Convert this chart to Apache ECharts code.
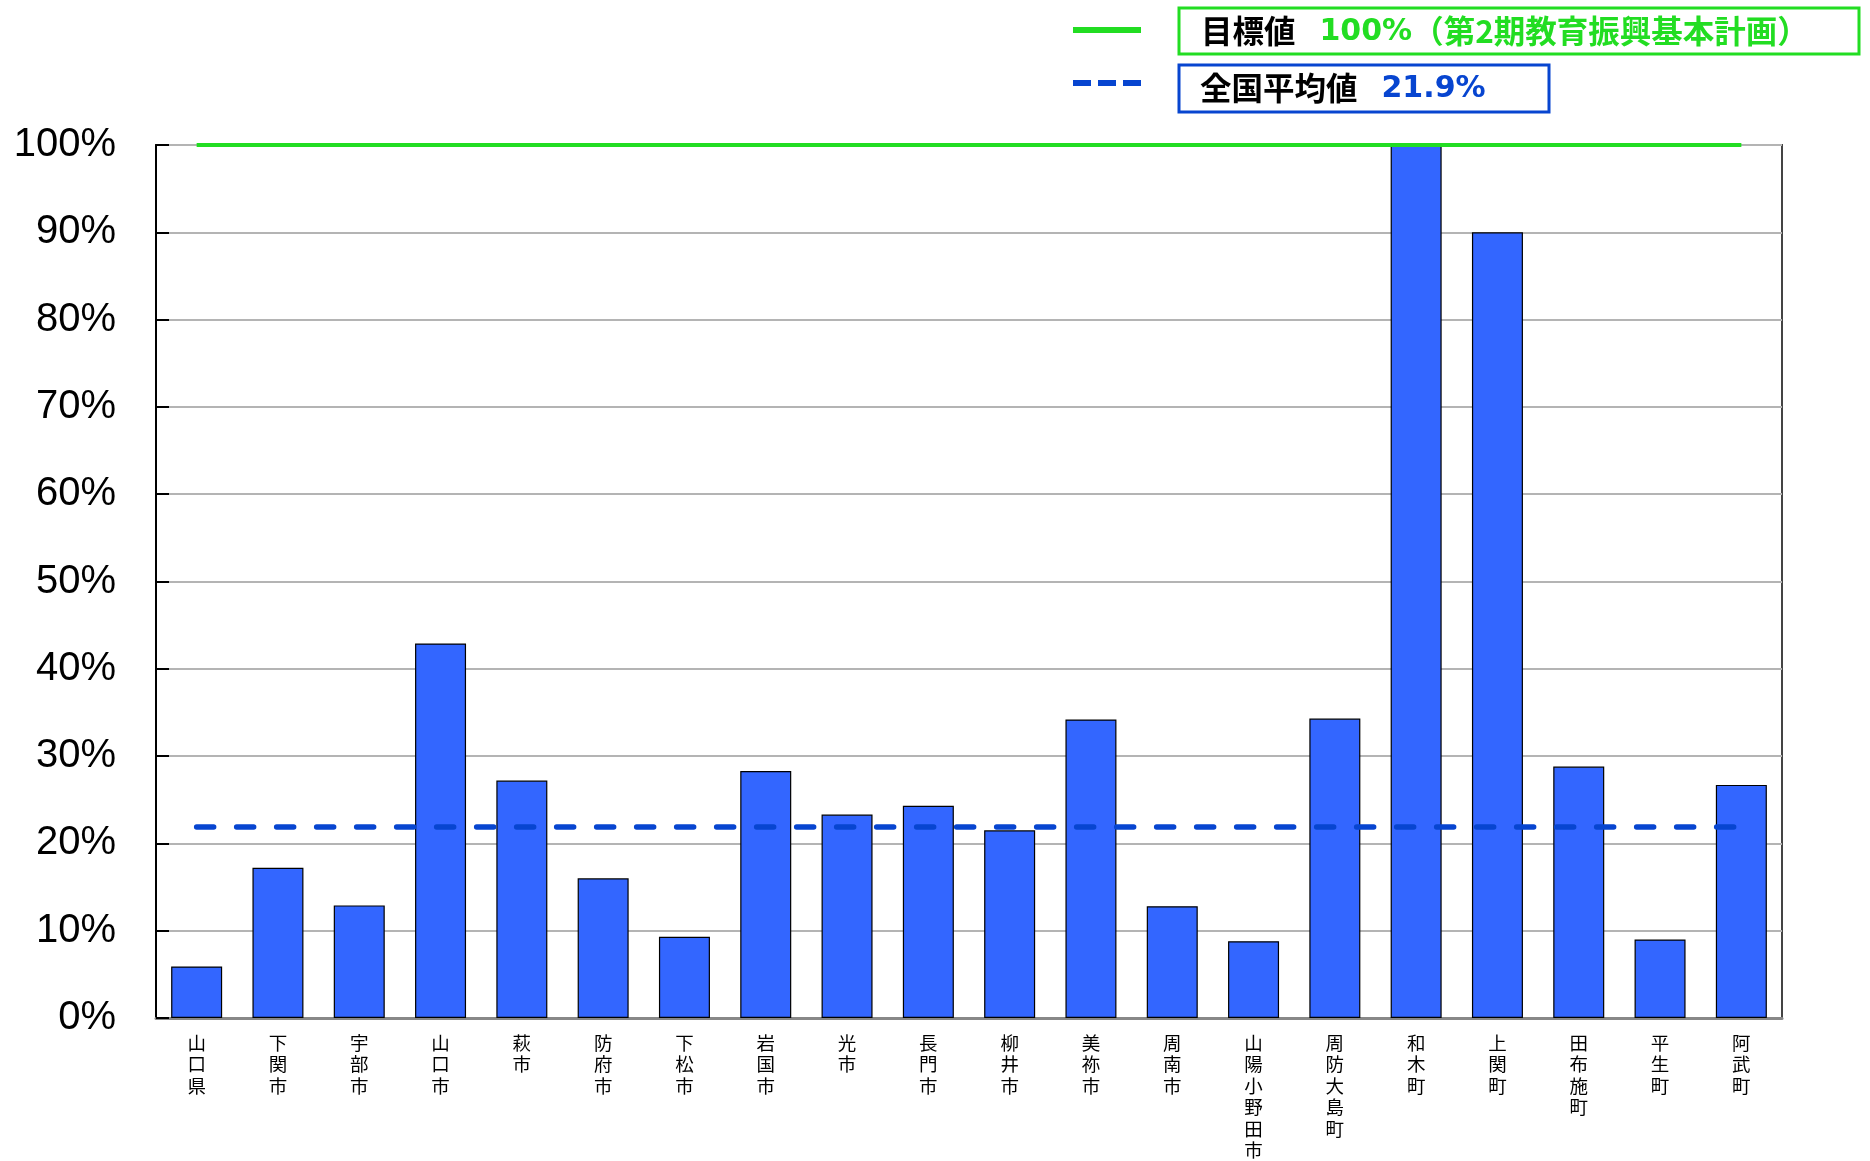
<!DOCTYPE html>
<html>
<head>
<meta charset="utf-8">
<script src="https://cdn.jsdelivr.net/npm/echarts@6/dist/echarts.min.js"></script>
<style>
  html, body { margin: 0; padding: 0; background: #fff; }
  #chart { width: 1870px; height: 1161px; }
</style>
</head>
<body>
<div id="chart"></div>
<script>
// 市町名
const cities = ['山口県', '下関市', '宇部市', '山口市', '萩市', '防府市', '下松市', '岩国市', '光市', '長門市',
                '柳井市', '美祢市', '周南市', '山陽小野田市', '周防大島町', '和木町', '上関町', '田布施町', '平生町', '阿武町'];
// 割合（%）
const rates = [5.9, 17.2, 12.9, 42.9, 27.2, 16.0, 9.3, 28.3, 23.3, 24.3,
               21.5, 34.2, 12.8, 8.8, 34.3, 100, 90.0, 28.8, 9.0, 26.7];
// 目標値と全国平均値（%）
const targetRate = 100;
const nationalAverage = 21.9;
const targetNote = '（第2期教育振興基本計画）';
// 縦軸目盛
const yMin = 0, yMax = 100, yStep = 10;

const GREEN = '#22dd22';
const BLUE = '#0745d0';
const BAR = '#3366ff';
const CJK = '"Noto Sans CJK JP", "Noto Sans", sans-serif';
const NUM = '"DejaVu Sans", Verdana, sans-serif';

const chart = echarts.init(document.getElementById('chart'), null, { renderer: 'canvas' });

const first = cities[0], last = cities[cities.length - 1];

const legendRich = {
  k: { fontFamily: CJK, fontWeight: 'bold', fontSize: 31.5, fill: '#000', padding: [0, 24, 0, 0] },
  g: { fontFamily: NUM, fontWeight: 'bold', fontSize: 30, fill: GREEN, padding: [2, 0, 0, 0] },
  gj: { fontFamily: CJK, fontWeight: 'bold', fontSize: 31.5, fill: GREEN },
  b: { fontFamily: NUM, fontWeight: 'bold', fontSize: 30, fill: BLUE, padding: [2, 0, 0, 0] }
};

chart.setOption({
  animation: false,
  backgroundColor: '#fff',
  grid: {
    left: 156, right: 88, top: 145, bottom: 142,
    show: true, borderColor: '#444', borderWidth: 2, backgroundColor: 'transparent'
  },
  xAxis: {
    type: 'category',
    data: cities,
    axisLine: { lineStyle: { color: '#888', width: 3 } },
    axisTick: { inside: true, length: 5, lineStyle: { color: '#999', width: 1 } },
    axisLabel: {
      interval: 0, margin: 14,
      fontFamily: CJK, fontSize: 18.5, lineHeight: 21.5, color: '#000',
      formatter: v => v.split('').join('\n')
    },
    splitLine: { show: false }
  },
  yAxis: {
    type: 'value',
    min: yMin, max: yMax, interval: yStep,
    axisLine: { show: true, lineStyle: { color: '#000', width: 2 } },
    axisTick: { show: true, inside: true, length: 13, lineStyle: { color: '#000', width: 2 } },
    axisLabel: {
      formatter: '{value}%', margin: 40, padding: [10, 0, 0, 0],
      fontFamily: '"Liberation Sans", Arial, sans-serif', fontSize: 40, color: '#000'
    },
    splitLine: { lineStyle: { color: '#b4b4b4', width: 2 } }
  },
  series: [{
    type: 'bar',
    data: rates,
    barWidth: 51,
    itemStyle: { color: BAR, borderColor: '#000', borderWidth: 1.2 },
    markLine: {
      silent: true,
      symbol: 'none',
      label: { show: false },
      data: [
        [
          { coord: [first, targetRate], lineStyle: { color: GREEN, width: 4, type: 'solid' } },
          { coord: [last, targetRate] }
        ],
        [
          { coord: [first, nationalAverage], lineStyle: { color: BLUE, width: 5.5, type: [17, 23], cap: 'round' } },
          { coord: [last, nationalAverage] }
        ]
      ]
    }
  }],
  graphic: [
    // 凡例：目標値
    { type: 'line', shape: { x1: 1073, y1: 30, x2: 1141, y2: 30 }, style: { stroke: GREEN, lineWidth: 6 } },
    { type: 'rect', shape: { x: 1179, y: 8, width: 680, height: 46 }, style: { fill: '#fff', stroke: GREEN, lineWidth: 3 } },
    {
      type: 'text', left: 1201, top: 15,
      style: {
        text: '{k|目標値}{g|' + targetRate + '%}{gj|' + targetNote + '}',
        rich: legendRich
      }
    },
    // 凡例：全国平均値
    { type: 'line', shape: { x1: 1073, y1: 83, x2: 1141, y2: 83 }, style: { stroke: BLUE, lineWidth: 6, lineDash: [18, 7] } },
    { type: 'rect', shape: { x: 1179, y: 65, width: 370, height: 47 }, style: { fill: '#fff', stroke: BLUE, lineWidth: 3 } },
    {
      type: 'text', left: 1200, top: 72,
      style: {
        text: '{k|全国平均値}{b|' + nationalAverage.toFixed(1) + '%}',
        rich: legendRich
      }
    }
  ]
});
</script>
</body>
</html>
